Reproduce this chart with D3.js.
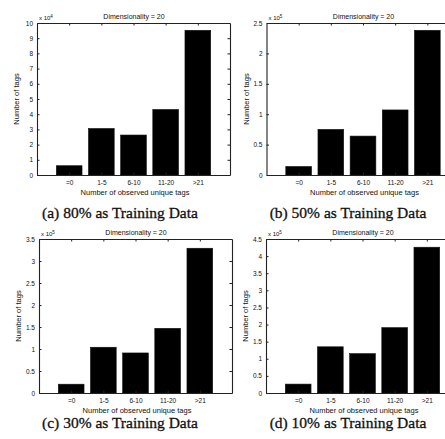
<!DOCTYPE html>
<html>
<head>
<meta charset="utf-8">
<script src="https://cdn.jsdelivr.net/npm/d3@7"></script>
<style>
  body { margin: 0; background: #fff; }
  .ax text { font-family: "Liberation Sans", Arial, sans-serif; font-size: 6.5px; fill: #111; }
  .ax path, .ax line { stroke: #222; }
</style>
</head>
<body>
<svg id="fig" width="445" height="439"></svg>
<script>
// categories on the x axis
var categories = ["=0", "1-5", "6-10", "11-20", ">21"];

// bar heights (in units of the axis multiplier)
var valuesA = [0.61, 3.06, 2.63, 4.31, 9.52];   // x10^4
var valuesB = [0.14, 0.75, 0.64, 1.07, 2.38];   // x10^5
var valuesC = [0.20, 1.04, 0.91, 1.47, 3.29];   // x10^5
var valuesD = [0.26, 1.35, 1.15, 1.91, 4.26];   // x10^5

var yMaxes = [10, 2.5, 3.5, 4.5];
var yTicksA = [0,1,2,3,4,5,6,7,8,9,10];
var yTicksB = [0,0.5,1,1.5,2,2.5];
var yTicksC = [0,0.5,1,1.5,2,2.5,3,3.5];
var yTicksD = [0,0.5,1,1.5,2,2.5,3,3.5,4,4.5];
var exponents = ["4", "5", "5", "5"];
var captions = ["(a) 80% as Training Data", "(b) 50% as Training Data",
                "(c) 30% as Training Data", "(d) 10% as Training Data"];

var svg = d3.select("#fig");

// box geometry for each panel
var panels = [
  {x0: 37,  top: 23,  bottom: 175, vals: valuesA, ticks: yTicksA, capX: 120, capY: 218},
  {x0: 266.5, top: 23, bottom: 175, vals: valuesB, ticks: yTicksB, capX: 348, capY: 218},
  {x0: 39,  top: 239, bottom: 393, vals: valuesC, ticks: yTicksC, capX: 120, capY: 428},
  {x0: 266, top: 239, bottom: 393, vals: valuesD, ticks: yTicksD, capX: 348, capY: 428}
];
var boxW = 193;

panels.forEach(function(p, i) {
  var g = svg.append("g");
  // MATLAB style: x limits 0..6, bars at 1..5 with width 0.8
  var x = d3.scaleLinear().domain([0, 6]).range([p.x0, p.x0 + boxW]);
  var y = d3.scaleLinear().domain([0, yMaxes[i]]).range([p.bottom, p.top]);
  var step = x(1) - x(0);

  g.selectAll(".bar")
    .data(p.vals)
    .enter().append("rect")
    .attr("x", function(d, j) { return x(j + 1) - step * 0.4; })
    .attr("width", step * 0.8)
    .attr("y", function(d) { return y(d); })
    .attr("height", function(d) { return p.bottom - y(d); })
    .attr("fill", "#000")
    .attr("stroke", "#111")
    .attr("stroke-width", 0.6);

  var xTickVals = [1, 2, 3, 4, 5];

  g.append("g").attr("class", "ax")
    .attr("transform", "translate(0," + p.bottom + ")")
    .call(d3.axisBottom(x).tickValues(xTickVals).tickSizeInner(-2.5).tickSizeOuter(0).tickPadding(5)
      .tickFormat(function(d) { return categories[d - 1]; }));

  g.append("g").attr("class", "ax")
    .attr("transform", "translate(0," + p.top + ")")
    .call(d3.axisTop(x).tickValues(xTickVals).tickSizeInner(-2.5).tickSizeOuter(0).tickFormat(""));

  g.append("g").attr("class", "ax")
    .attr("transform", "translate(" + p.x0 + ",0)")
    .call(d3.axisLeft(y).tickValues(p.ticks).tickSizeInner(-2.5).tickSizeOuter(0).tickPadding(4)
      .tickFormat(d3.format("~g")));

  g.append("g").attr("class", "ax")
    .attr("transform", "translate(" + (p.x0 + boxW) + ",0)")
    .call(d3.axisRight(y).tickValues(p.ticks).tickSizeInner(-2.5).tickSizeOuter(0).tickFormat(""));

  g.selectAll(".ax path").attr("stroke-width", 1.1);

  // multiplier
  var m = g.append("text")
    .attr("x", p.x0 + 2)
    .attr("y", p.top - 3)
    .style("font-family", "Liberation Sans, Arial, sans-serif")
    .style("font-size", "6px")
    .attr("fill", "#111")
    .text("x 10");
  m.append("tspan").attr("dy", -2.5).style("font-size", "4.5px").text(exponents[i]);

  // title
  g.append("text")
    .attr("x", p.x0 + 97)
    .attr("y", p.top - 4)
    .attr("text-anchor", "middle")
    .style("font-family", "Liberation Sans, Arial, sans-serif")
    .style("font-size", "7px")
    .attr("fill", "#111")
    .text("Dimensionality = 20");

  // x label
  g.append("text")
    .attr("x", p.x0 + 98)
    .attr("y", p.bottom + 20)
    .attr("text-anchor", "middle")
    .style("font-family", "Liberation Sans, Arial, sans-serif")
    .style("font-size", "7.5px")
    .attr("fill", "#111")
    .text("Number of observed unique tags");

  // y label
  g.append("text")
    .attr("transform", "translate(" + (p.x0 - 18) + "," + ((p.top + p.bottom) / 2) + ") rotate(-90)")
    .attr("text-anchor", "middle")
    .style("font-family", "Liberation Sans, Arial, sans-serif")
    .style("font-size", "7.5px")
    .attr("fill", "#111")
    .text("Number of tags");

  // caption
  svg.append("text")
    .attr("x", p.capX)
    .attr("y", p.capY)
    .attr("text-anchor", "middle")
    .style("font-family", "Liberation Serif, DejaVu Serif, serif")
    .style("font-size", "15.5px")
    .attr("fill", "#111")
    .attr("stroke", "#111")
    .attr("stroke-width", 0.3)
    .text(captions[i]);
});
</script>
</body>
</html>
